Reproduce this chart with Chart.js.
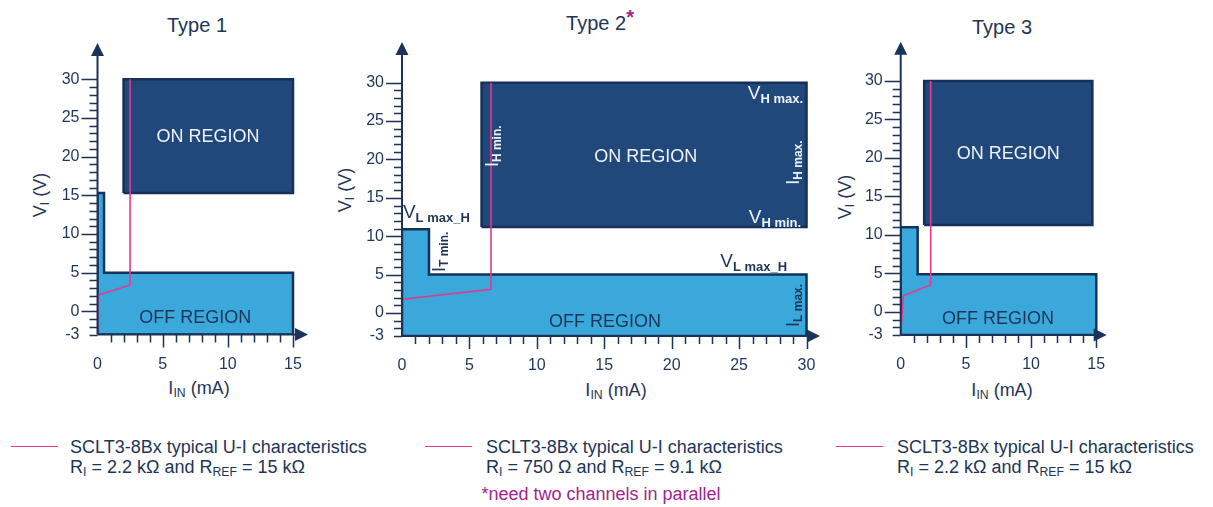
<!DOCTYPE html>
<html>
<head>
<meta charset="utf-8">
<title>SCLT3-8Bx input characteristics</title>
<script src="https://cdn.jsdelivr.net/npm/chart.js@4.4.1/dist/chart.umd.min.js"></script>
<style>
  html,body{margin:0;padding:0;background:#fff;}
  body{width:1213px;height:507px;position:relative;overflow:hidden;
       font-family:"Liberation Sans",Arial,sans-serif;color:#1d3557;}
  canvas{position:absolute;left:0;top:0;}
  .t{position:absolute;white-space:nowrap;line-height:1;}
  .c{transform:translate(-50%,-50%);}
  .rot{transform:translate(-50%,-50%) rotate(-90deg);}
  .title{font-size:20px;}
  .axt{font-size:18px;}
  sub{font-size:68%;vertical-align:-0.25em;line-height:0;}
  .star{color:#a3238e;font-weight:bold;font-size:20px;vertical-align:0.3em;}
  .leg{font-size:18px;line-height:20px;}
  .legline{position:absolute;height:0;border-top:1.5px solid #e8378f;}
  .note{color:#a3238e;font-size:18px;}
</style>
</head>
<body>

<div class="t c title" style="left:197px;top:25px;">Type 1</div>
<div class="t c title" style="left:600px;top:20px;">Type 2<span class="star">*</span></div>
<div class="t c title" style="left:1002px;top:27px;">Type 3</div>

<div class="t rot axt" style="left:40px;top:195px;">V<sub>I</sub> (V)</div>
<div class="t rot axt" style="left:345px;top:190px;">V<sub>I</sub> (V)</div>
<div class="t rot axt" style="left:845px;top:197px;">V<sub>I</sub> (V)</div>

<div class="t c axt" style="left:199px;top:388px;">I<sub>IN</sub> (mA)</div>
<div class="t c axt" style="left:616px;top:390px;">I<sub>IN</sub> (mA)</div>
<div class="t c axt" style="left:1002px;top:390px;">I<sub>IN</sub> (mA)</div>

<div class="legline" style="left:11px;top:446px;width:47px;"></div>
<div class="t leg" style="left:70px;top:437px;">SCLT3-8Bx typical U-I characteristics<br>R<sub>I</sub> = 2.2 kΩ and R<sub>REF</sub> = 15 kΩ</div>
<div class="legline" style="left:425px;top:446px;width:47px;"></div>
<div class="t leg" style="left:486px;top:437px;">SCLT3-8Bx typical U-I characteristics<br>R<sub>I</sub> = 750 Ω and R<sub>REF</sub> = 9.1 kΩ</div>
<div class="legline" style="left:836px;top:446px;width:47px;"></div>
<div class="t leg" style="left:897px;top:437px;">SCLT3-8Bx typical U-I characteristics<br>R<sub>I</sub> = 2.2 kΩ and R<sub>REF</sub> = 15 kΩ</div>
<div class="t c note" style="left:601px;top:494px;">*need two channels in parallel</div>

<script>
/* ── tick labels ── */
var yTicks  = [-3, 0, 5, 10, 15, 20, 25, 30];
var xTicks1 = [0, 5, 10, 15];
var xTicks2 = [0, 5, 10, 15, 20, 25, 30];
var xTicks3 = [0, 5, 10, 15];

/* ── axis extents (arrow tips) ── */
var yMin = -3;
var xMax = [16.15, 31, 15.8];
var yMax = [34.7, 35.3, 35.1];

/* ── Type 1 : I_IN (mA) / V_I (V) ── */
var off1X = [0, 0, 0.5, 0.5, 15, 15, 0];
var off1Y = [-3, 15.3, 15.3, 5, 5, -3, -3];
var on1X  = [2, 2, 15, 15, 2];
var on1Y  = [15.3, 30, 30, 15.3, 15.3];
var ui1X  = [0, 0.05, 2.5, 2.5];
var ui1Y  = [-3, 2.1, 3.4, 30];

/* ── Type 2 ── */
var off2X = [0, 0, 2, 2, 30, 30, 0];
var off2Y = [-3, 10.9, 10.9, 5, 5, -3, -3];
var on2X  = [5.9, 5.9, 30, 30, 5.9];
var on2Y  = [11.2, 30, 30, 11.2, 11.2];
var ui2X  = [-0.1, 0.05, 6.6, 6.6];
var ui2Y  = [-3, 1.8, 3.1, 30];

/* ── Type 3 ── */
var off3X = [0, 0, 1.3, 1.3, 15, 15, 0];
var off3Y = [-3, 11, 11, 4.9, 4.9, -3, -3];
var on3X  = [1.8, 1.8, 14.7, 14.7, 1.8];
var on3Y  = [11.3, 30, 30, 11.3, 11.3];
var ui3X  = [0, 0.2, 2.3, 2.3];
var ui3Y  = [-3, 2.1, 3.5, 30];

var FONT = '"Liberation Sans", Arial, sans-serif';
var DARK = '#1d3557', LIGHT = '#eef2f8', AXIS = '#1b3358', EDGE = '#15315a';
var ON_FILL = '#21487b', OFF_FILL = '#3aa8db', PINK = '#e8378f';
var W = 1213, H = 507, Y_W = 60, X_H = 50;

function pts(xs, ys){
  return xs.map(function(x, i){ return {x:x, y:ys[i]}; });
}

function drawSub(ctx, x, y, main, sub, size, align, rot){
  ctx.save();
  ctx.translate(x, y);
  if(rot) ctx.rotate(-Math.PI/2);
  ctx.font = size + 'px ' + FONT;
  var w1 = ctx.measureText(main).width;
  var sf = 'bold ' + Math.round(size*0.68) + 'px ' + FONT;
  ctx.font = sf;
  var w2 = ctx.measureText(sub).width;
  var x0 = align === 'right' ? -(w1+w2) : 0;
  ctx.textAlign = 'left';
  ctx.textBaseline = rot ? 'middle' : 'alphabetic';
  ctx.font = size + 'px ' + FONT;
  ctx.fillText(main, x0, 0);
  ctx.font = sf;
  ctx.fillText(sub, x0 + w1, size*(rot ? 0.28 : 0.22));
  ctx.restore();
}

var decor = {
  id:'decor',
  afterDatasetsDraw:function(chart, args, opts){
    var ctx = chart.ctx, xs = chart.scales.x, ys = chart.scales.y;
    (opts.notes || []).forEach(function(n){
      var px = xs.getPixelForValue(n.x), py = ys.getPixelForValue(n.y);
      ctx.fillStyle = n.c;
      if(n.s){
        drawSub(ctx, px, py, n.m, n.s, n.size || 19, n.align, n.rot);
      } else {
        ctx.save();
        ctx.font = '18px ' + FONT;
        ctx.textAlign = 'center';
        ctx.textBaseline = 'middle';
        ctx.fillText(n.m, px, py);
        ctx.restore();
      }
    });
  },
  afterDraw:function(chart, args, opts){
    var ctx = chart.ctx, ca = chart.chartArea, xs = chart.scales.x, ys = chart.scales.y;
    var x0 = xs.getPixelForValue(0), yb = ys.getPixelForValue(yMin);
    ctx.save();
    ctx.strokeStyle = AXIS; ctx.fillStyle = AXIS; ctx.lineWidth = 2;
    ctx.beginPath();
    ctx.moveTo(x0, yb); ctx.lineTo(x0, ca.top + 10);
    ctx.moveTo(x0, yb); ctx.lineTo(ca.right - 10, yb);
    ctx.stroke();
    // arrow heads
    ctx.beginPath();
    ctx.moveTo(x0, ca.top); ctx.lineTo(x0 - 6.5, ca.top + 13); ctx.lineTo(x0 + 6.5, ca.top + 13); ctx.closePath();
    ctx.moveTo(ca.right, yb); ctx.lineTo(ca.right - 13, yb - 6.5); ctx.lineTo(ca.right - 13, yb + 6.5); ctx.closePath();
    ctx.fill();
    // y tick marks, one per volt
    ctx.lineWidth = 1.5;
    ctx.beginPath();
    for(var v = yMin; v <= 30; v++){
      var py = Math.round(ys.getPixelForValue(v)) + 0.5;
      var len = (v % 5 === 0) ? 16 : 8;
      ctx.moveTo(x0 - len, py); ctx.lineTo(x0, py);
    }
    // x tick marks, one per mA
    for(var u = 1; u <= opts.xLast; u++){
      var px = Math.round(xs.getPixelForValue(u)) + 0.5;
      var l2 = (u % 5 === 0) ? 13 : 8;
      ctx.moveTo(px, yb); ctx.lineTo(px, yb + l2);
    }
    ctx.stroke();
    ctx.restore();
  }
};

function buildPanel(p){
  var canvas = document.createElement('canvas');
  canvas.width = W; canvas.height = H;
  document.body.appendChild(canvas);
  var b = p.box;
  new Chart(canvas, {
    type:'line',
    data:{
      datasets:[
        {data:pts(p.uiX, p.uiY), borderColor:PINK, borderWidth:1.6, fill:false, order:0},
        {data:pts(p.onX, p.onY), borderColor:EDGE, backgroundColor:ON_FILL, borderWidth:2.5, fill:'shape', order:1},
        {data:pts(p.offX, p.offY), borderColor:EDGE, backgroundColor:OFF_FILL, borderWidth:2.5, fill:'shape', order:2}
      ]
    },
    options:{
      responsive:false, animation:false, events:[],
      elements:{point:{radius:0}, line:{tension:0, borderJoinStyle:'miter'}},
      layout:{padding:{left:b.left - Y_W, right:W - b.right, top:b.top, bottom:H - b.bottom - X_H}},
      plugins:{
        legend:{display:false}, tooltip:{enabled:false},
        decor:{notes:p.notes, xLast:p.xLast}
      },
      scales:{
        x:{
          type:'linear', min:0, max:p.xMax,
          grid:{display:false, drawTicks:false}, border:{display:false},
          afterBuildTicks:function(s){ s.ticks = p.xTicks.map(function(v){ return {value:v}; }); },
          afterFit:function(s){ s.height = X_H; },
          ticks:{padding:20, color:DARK, font:{family:FONT, size:16}, maxRotation:0, autoSkip:false}
        },
        y:{
          type:'linear', min:yMin, max:p.yMax,
          grid:{display:false, drawTicks:false}, border:{display:false},
          afterBuildTicks:function(s){ s.ticks = yTicks.map(function(v){ return {value:v}; }); },
          afterFit:function(s){ s.width = Y_W; },
          ticks:{padding:18, color:DARK, font:{family:FONT, size:16}, autoSkip:false}
        }
      }
    },
    plugins:[decor]
  });
}

buildPanel({
  box:{left:97.5, right:308, top:43, bottom:334.5},
  xMax:xMax[0], yMax:yMax[0], xTicks:xTicks1, xLast:15,
  offX:off1X, offY:off1Y, onX:on1X, onY:on1Y, uiX:ui1X, uiY:ui1Y,
  notes:[
    {m:'ON REGION', x:8.48, y:22.6, c:LIGHT},
    {m:'OFF REGION', x:7.5, y:-0.87, c:DARK}
  ]
});

buildPanel({
  box:{left:402, right:820, top:42, bottom:336},
  xMax:xMax[1], yMax:yMax[1], xTicks:xTicks2, xLast:30,
  offX:off2X, offY:off2Y, onX:on2X, onY:on2Y, uiX:ui2X, uiY:ui2Y,
  notes:[
    {m:'ON REGION', x:18.08, y:20.36, c:LIGHT},
    {m:'OFF REGION', x:15.06, y:-1.13, c:DARK},
    {m:'V', s:'L max_H', x:0.07, y:12.4, c:DARK, align:'left'},
    {m:'I', s:'T min.', x:2.82, y:5.34, c:DARK, rot:true, size:18},
    {m:'I', s:'H min.', x:6.75, y:19.0, c:LIGHT, rot:true, size:18},
    {m:'V', s:'H max.', x:29.75, y:27.9, c:LIGHT, align:'right'},
    {m:'I', s:'H max.', x:29.05, y:16.7, c:LIGHT, rot:true, size:18},
    {m:'V', s:'H min.', x:29.6, y:11.7, c:LIGHT, align:'right'},
    {m:'V', s:'L max_H', x:28.56, y:6.0, c:DARK, align:'right'},
    {m:'I', s:'L max.', x:29.05, y:-1.82, c:DARK, rot:true, size:18}
  ]
});

buildPanel({
  box:{left:900.7, right:1106.7, top:41.7, bottom:335},
  xMax:xMax[2], yMax:yMax[2], xTicks:xTicks3, xLast:15,
  offX:off3X, offY:off3Y, onX:on3X, onY:on3Y, uiX:ui3X, uiY:ui3Y,
  notes:[
    {m:'ON REGION', x:8.24, y:20.5, c:LIGHT},
    {m:'OFF REGION', x:7.47, y:-0.92, c:DARK}
  ]
});
</script>
</body>
</html>
